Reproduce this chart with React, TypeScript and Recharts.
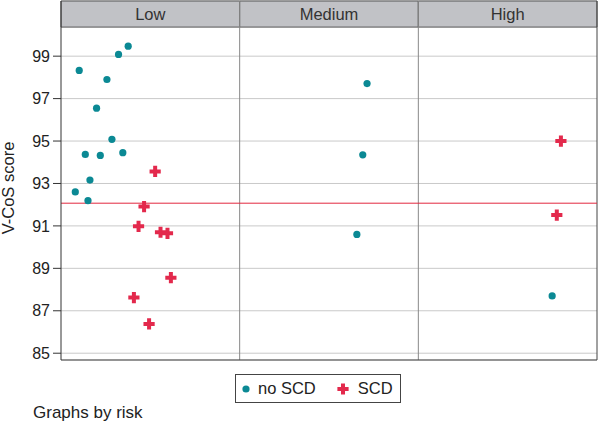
import React from "react";
import {
  ScatterChart,
  Scatter,
  XAxis,
  YAxis,
  CartesianGrid,
  ReferenceLine,
  ReferenceArea,
} from "recharts";

// panels, left to right
const riskGroups = ["Low", "Medium", "High"];

// no SCD: panel index, position inside panel (0..1), V-CoS score
const noScdGroup = [0, 0, 0, 0, 0, 0, 0, 0, 0, 0, 0, 0, 1, 1, 1, 2];
const noScdPos = [
  0.102, 0.376, 0.322, 0.257, 0.199, 0.285, 0.136, 0.22, 0.346, 0.162, 0.08,
  0.151, 0.713, 0.689, 0.656, 0.749,
];
const noScdScore = [
  98.33, 99.47, 99.08, 97.9, 96.55, 95.08, 94.37, 94.32, 94.45, 93.16, 92.6,
  92.19, 97.71, 94.35, 90.6, 87.7,
];

// SCD
const scdGroup = [0, 0, 0, 0, 0, 0, 0, 0, 2, 2];
const scdPos = [0.527, 0.465, 0.434, 0.557, 0.596, 0.615, 0.408, 0.493, 0.798, 0.775];
const scdScore = [93.57, 91.91, 90.98, 90.7, 90.65, 88.56, 87.62, 86.38, 95.0, 91.51];

const yTicks = [85, 87, 89, 91, 93, 95, 97, 99];
const cutoff = 92.07;

const TEAL = "#0b8994";
const RED = "#e3294c";
const FONT = "'Liberation Sans', Arial, Helvetica, sans-serif";

// plot top is 100.37, header strip sits above it inside the same axis
const PLOT_TOP = 100.37;
const Y_MIN = 84.68;
const Y_MAX = 101.6;

const noScdData = noScdScore.map((s, i) => ({ x: noScdGroup[i] + noScdPos[i], y: s }));
const scdData = scdScore.map((s, i) => ({ x: scdGroup[i] + scdPos[i], y: s }));

const Dot = (props: any) => <circle cx={props.cx} cy={props.cy} r={3.6} fill={TEAL} />;

const Cross = (props: any) => {
  const { cx, cy } = props;
  const a = 5.6;
  const t = 2;
  const d = `M${cx - t},${cy - a}H${cx + t}V${cy - t}H${cx + a}V${cy + t}H${cx + t}V${cy + a}H${cx - t}V${cy + t}H${cx - a}V${cy - t}H${cx - t}Z`;
  return <path d={d} fill={RED} />;
};

export default function App() {
  return (
    <div
      style={{
        position: "absolute",
        left: 0,
        top: 0,
        width: 598,
        height: 425,
        background: "#fff",
        fontFamily: FONT,
      }}
    >
      <ScatterChart
        width={598}
        height={425}
        margin={{ top: 1, right: 1, bottom: 64, left: 0 }}
      >
        <CartesianGrid vertical={false} stroke="#c9c9c9" />
        <XAxis
          type="number"
          dataKey="x"
          domain={[0, 3]}
          tick={false}
          tickLine={false}
          height={1}
          axisLine={{ stroke: "#444" }}
        />
        <YAxis
          type="number"
          dataKey="y"
          domain={[Y_MIN, Y_MAX]}
          ticks={yTicks}
          width={61}
          tickSize={8}
          tickMargin={3}
          axisLine={{ stroke: "#333" }}
          tickLine={{ stroke: "#333" }}
          tick={{ fill: "#222", fontSize: 16, fontFamily: FONT }}
          label={{
            content: () => (
              <text
                x={8}
                y={188}
                transform="rotate(-90 8 188)"
                textAnchor="middle"
                dominantBaseline="central"
                fill="#222"
                fontSize={16.5}
                fontFamily={FONT}
              >
                V-CoS score
              </text>
            ),
          }}
        />
        {riskGroups.map((g, i) => (
          <ReferenceArea
            key={g}
            x1={i}
            x2={i + 1}
            y1={PLOT_TOP}
            y2={Y_MAX}
            fill="#c1c2c6"
            fillOpacity={1}
            stroke="#555"
            label={{ value: g, position: "center", fill: "#333", fontSize: 16.5, fontFamily: FONT }}
          />
        ))}
        <ReferenceLine x={1} stroke="#888" />
        <ReferenceLine x={2} stroke="#888" />
        <ReferenceLine x={3} stroke="#444" />
        <ReferenceLine y={cutoff} stroke="#e2283f" strokeWidth={1} />
        <Scatter data={noScdData} shape={Dot} isAnimationActive={false} />
        <Scatter data={scdData} shape={Cross} isAnimationActive={false} />
      </ScatterChart>

      <div
        style={{
          position: "absolute",
          left: 235,
          top: 374,
          width: 164,
          height: 27,
          border: "1px solid #444",
          display: "flex",
          alignItems: "center",
          fontSize: 16.5,
          color: "#222",
        }}
      >
        <svg width={20} height={16} style={{ marginLeft: 0 }}>
          <circle cx={10} cy={8} r={3.6} fill={TEAL} />
        </svg>
        <span style={{ marginLeft: 2 }}>no SCD</span>
        <svg width={20} height={16} style={{ marginLeft: 17 }}>
          <Cross cx={10} cy={8} />
        </svg>
        <span style={{ marginLeft: 5 }}>SCD</span>
      </div>

      <div
        style={{
          position: "absolute",
          left: 33,
          top: 403,
          fontSize: 17,
          color: "#222",
          whiteSpace: "nowrap",
        }}
      >
        Graphs by risk
      </div>
    </div>
  );
}
